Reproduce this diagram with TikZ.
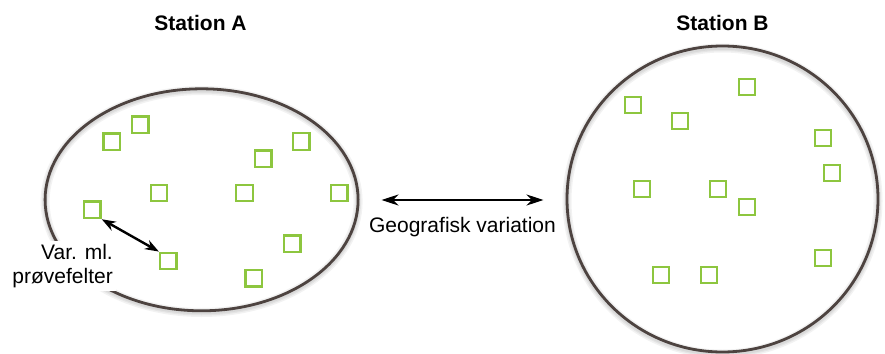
\documentclass[tikz,border=0pt]{standalone}
\usepackage{fontspec}
\setmainfont{Liberation Sans}
\usetikzlibrary{arrows.meta}
\definecolor{rimbrown}{RGB}{77,67,64}
\definecolor{plotgreen}{RGB}{141,198,63}
\begin{document}
\begin{tikzpicture}[x=1pt,y=-1pt,
  site/.style={draw=rimbrown,line width=2.8pt},
  halo/.style={draw=black,line width=#1,opacity=0.05},
  plot/.style={draw=plotgreen,line width=2.4pt,minimum size=16.5pt,inner sep=0pt,fill=white},
  title/.style={font=\fontsize{21}{25}\selectfont\bfseries,anchor=base},
  label/.style={font=\fontsize{21}{25}\selectfont},
  twoway/.style={line width=2.4pt,{Stealth[length=17pt,width=11pt]}-{Stealth[length=17pt,width=11pt]}},
  twowaysmall/.style={line width=2.4pt,{Stealth[length=14pt,width=10pt]}-{Stealth[length=14pt,width=10pt]}}]
\useasboundingbox (0,0) rectangle (885,353);
\fill[white] (0,0) rectangle (885,353);

% soft halo under the two site outlines
\foreach \w in {9pt,6pt,3.5pt}{
  \draw[halo=\w] (201.6,201.5) ellipse [x radius=156.5, y radius=111];
  \draw[halo=\w] (722.5,201) ellipse [x radius=155.5, y radius=153];
}
\draw[site] (201.6,199.8) ellipse [x radius=156.5, y radius=111];
\draw[site] (722.5,199) ellipse [x radius=155.5, y radius=153];

% station titles
\node[title] (tA) at (200.5,31) {Station A};
\node[title] (tB) at (722.5,31) {Station B};

% plots at station A
\node[plot] (a1)  at (140.3,124.7) {};
\node[plot] (a2)  at (111.7,141.7) {};
\node[plot] (a3)  at (301.3,141.5) {};
\node[plot] (a4)  at (263.3,158.8) {};
\node[plot] (a5)  at (159.0,193.0) {};
\node[plot] (a6)  at (244.5,193.0) {};
\node[plot] (a7)  at (339.2,193.0) {};
\node[plot] (a8)  at (92.3,209.8) {};
\node[plot] (a9)  at (292.2,243.8) {};
\node[plot] (a10) at (168.3,261.0) {};
\node[plot] (a11) at (253.7,278.3) {};

% plots at station B
\node[plot] (b1)  at (633,105) {};
\node[plot] (b2)  at (680,121) {};
\node[plot] (b3)  at (747,87) {};
\node[plot] (b4)  at (823,138) {};
\node[plot] (b5)  at (832,173) {};
\node[plot] (b6)  at (642,189) {};
\node[plot] (b7)  at (718,189) {};
\node[plot] (b8)  at (747,207) {};
\node[plot] (b9)  at (823,258) {};
\node[plot] (b10) at (661,275) {};
\node[plot] (b11) at (709,275) {};

% variation between plots
\draw[twowaysmall] (a8.south east) -- (a10.north west);
\node[label,fill=white,align=right,anchor=north east,inner sep=3pt] (vml) at (116,241)
  {Var. ml.\\[-1pt]prøvefelter};

% variation between stations
\coordinate (gl) at (381.5,200);
\coordinate (gr) at (543.5,200);
\draw[twoway] (gl) -- (gr);
\node[label,anchor=base] (geo) at (462.5,232) {Geografisk variation};
\end{tikzpicture}
\end{document}
